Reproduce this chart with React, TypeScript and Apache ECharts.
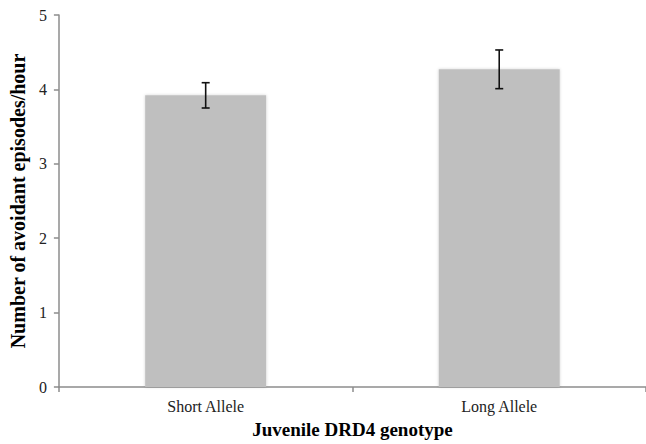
import React, { useEffect, useRef } from "react";
import * as echarts from "echarts";

const categories = ["Short Allele", "Long Allele"];
const means = [3.92, 4.27];
const errLow = [3.75, 4.01];
const errHigh = [4.09, 4.53];
const yTicks = [0, 1, 2, 3, 4, 5];

const FONT = "Liberation Serif";

export default function App() {
  const ref = useRef<HTMLDivElement>(null);
  useEffect(() => {
    if (!ref.current) return;
    const chart = echarts.init(ref.current, undefined, { renderer: "svg" });
    const errData = categories.map((_, i) => [i, errLow[i], errHigh[i]]);
    chart.setOption({
      animation: false,
      backgroundColor: "#ffffff",
      textStyle: { fontFamily: FONT },
      grid: { left: 51, top: 15, width: 600, height: 374, containLabel: false },
      xAxis: {
        type: "category",
        data: categories,
        name: "Juvenile DRD4 genotype",
        nameLocation: "middle",
        nameGap: 33,
        nameTextStyle: { fontFamily: FONT, fontSize: 19, fontWeight: "bold", color: "#000" },
        axisLine: { lineStyle: { color: "#8c8c8c", width: 1.5 } },
        axisTick: { show: true, length: 5, lineStyle: { color: "#8c8c8c", width: 1.5 } },
        axisLabel: { fontFamily: FONT, fontSize: 16, color: "#222", margin: 11 },
      },
      yAxis: {
        type: "value",
        min: yTicks[0],
        max: yTicks[yTicks.length - 1],
        interval: 1,
        name: "Number of avoidant episodes/hour",
        nameLocation: "middle",
        nameGap: 24,
        nameTextStyle: { fontFamily: FONT, fontSize: 20, fontWeight: "bold", color: "#000" },
        axisLine: { show: true, lineStyle: { color: "#8c8c8c", width: 1.5 } },
        axisTick: { show: true, length: 5, lineStyle: { color: "#8c8c8c", width: 1.5 } },
        axisLabel: { fontFamily: FONT, fontSize: 16, color: "#222", margin: 12 },
        splitLine: { show: false },
      },
      series: [
        {
          type: "bar",
          data: means,
          barWidth: 121,
          itemStyle: {
            color: "#bfbfbf",
            shadowBlur: 3,
            shadowColor: "rgba(0,0,0,0.18)",
          },
        },
        {
          type: "custom",
          data: errData,
          z: 10,
          renderItem: (params: any, api: any) => {
            const x = api.value(0);
            const lo = api.coord([x, api.value(1)]);
            const hi = api.coord([x, api.value(2)]);
            const cap = 4;
            const style = { stroke: "#111", lineWidth: 1.6 };
            return {
              type: "group",
              children: [
                { type: "line", shape: { x1: hi[0], y1: hi[1], x2: lo[0], y2: lo[1] }, style },
                { type: "line", shape: { x1: hi[0] - cap, y1: hi[1], x2: hi[0] + cap, y2: hi[1] }, style },
                { type: "line", shape: { x1: lo[0] - cap, y1: lo[1], x2: lo[0] + cap, y2: lo[1] }, style },
              ],
            };
          },
        },
      ],
    });
    return () => chart.dispose();
  }, []);
  return <div ref={ref} style={{ width: 646, height: 444, position: "absolute", left: 0, top: 0 }} />;
}
